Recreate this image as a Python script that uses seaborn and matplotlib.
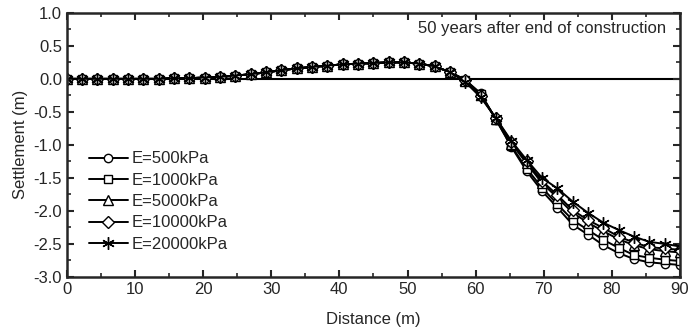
import numpy as np
import pandas as pd
import matplotlib
matplotlib.use("Agg")
import matplotlib.pyplot as plt
import seaborn as sns

# Settlement profiles 50 years after end of construction
distance = [0, 2.25, 4.5, 6.75, 9, 11.25, 13.5, 15.75, 18, 20.25,
            22.5, 24.75, 27, 29.25, 31.5, 33.75, 36, 38.25, 40.5, 42.75,
            45, 47.25, 49.5, 51.75, 54, 56.25, 58.5, 60.75, 63, 65.25,
            67.5, 69.75, 72, 74.25, 76.5, 78.75, 81, 83.25, 85.5, 87.75, 90]

# common part of the curve (0 .. 56.25 m)
common = [0.0, 0.0, 0.0, 0.0, 0.0, 0.0, 0.0, 0.01, 0.01, 0.02,
          0.03, 0.05, 0.07, 0.10, 0.13, 0.16, 0.18, 0.20, 0.22, 0.23,
          0.24, 0.25, 0.25, 0.23, 0.19, 0.10]

# 58.5 .. 90 m for each stiffness
tail_500 = [-0.02, -0.22, -0.62, -1.03, -1.40, -1.70, -1.95, -2.21, -2.36, -2.52,
            -2.64, -2.73, -2.78, -2.80, -2.82]
tail_1000 = [-0.02, -0.23, -0.62, -1.02, -1.36, -1.65, -1.90, -2.14, -2.29, -2.44,
             -2.56, -2.67, -2.71, -2.74, -2.76]
tail_5000 = [-0.03, -0.25, -0.61, -0.98, -1.28, -1.58, -1.80, -2.03, -2.18, -2.31,
             -2.43, -2.52, -2.58, -2.61, -2.63]
tail_10000 = [-0.01, -0.26, -0.60, -0.96, -1.25, -1.55, -1.76, -1.99, -2.14, -2.26,
              -2.39, -2.48, -2.55, -2.57, -2.59]
tail_20000 = [-0.05, -0.28, -0.60, -0.94, -1.23, -1.50, -1.66, -1.86, -2.03, -2.18,
              -2.29, -2.39, -2.47, -2.50, -2.54]

labels = ["E=500kPa", "E=1000kPa", "E=5000kPa", "E=10000kPa", "E=20000kPa"]
tails = [tail_500, tail_1000, tail_5000, tail_10000, tail_20000]
markers = ["o", "s", "^", "D", (6, 2, 0)]
msizes = [6, 5.5, 7, 6, 9]

sns.set_style("ticks")
plt.rcParams["font.family"] = ["Liberation Sans", "DejaVu Sans"]
fs = 12

fig, ax = plt.subplots(figsize=(6.89, 3.30), dpi=100)
fig.subplots_adjust(left=0.097, right=0.987, top=0.961, bottom=0.161)

for lab, tail, mk, ms in zip(labels, tails, markers, msizes):
    df = pd.DataFrame({"Distance": distance, "Settlement": common + tail})
    sns.lineplot(data=df, x="Distance", y="Settlement", ax=ax, color="black",
                 lw=1.4, marker=mk, markersize=ms, markerfacecolor="white",
                 markeredgecolor="black", markeredgewidth=1.0, label=lab)

ax.axhline(0, color="black", lw=1.5, zorder=0)

ax.set_xlim(0, 90)
ax.set_ylim(-3.0, 1.0)
ax.set_xticks(np.arange(0, 91, 10))
ax.set_xticks(np.arange(0, 91, 5), minor=True)
ax.set_yticks(np.arange(-3.0, 1.01, 0.5))
ax.set_yticks(np.arange(-3.0, 1.01, 0.25), minor=True)
ax.yaxis.set_major_formatter(matplotlib.ticker.FormatStrFormatter("%.1f"))
ax.tick_params(which="both", direction="in", top=True, right=True, labelsize=fs)
ax.tick_params(which="major", length=5, width=1.5)
ax.tick_params(which="minor", length=3, width=1.2)
for s in ax.spines.values():
    s.set_linewidth(1.8)

ax.set_xlabel("Distance (m)", fontsize=fs, labelpad=11)
ax.set_ylabel("Settlement (m)", fontsize=fs, labelpad=4)
ax.text(0.978, 0.97, "50 years after end of construction", transform=ax.transAxes,
        ha="right", va="top", fontsize=fs)

ax.legend(loc="upper left", bbox_to_anchor=(0.036, 0.475), frameon=False,
          handlelength=2.35, handletextpad=0.2, labelspacing=0.38, fontsize=fs,
          borderaxespad=0, borderpad=0)

fig.savefig("out.png", dpi=100)
